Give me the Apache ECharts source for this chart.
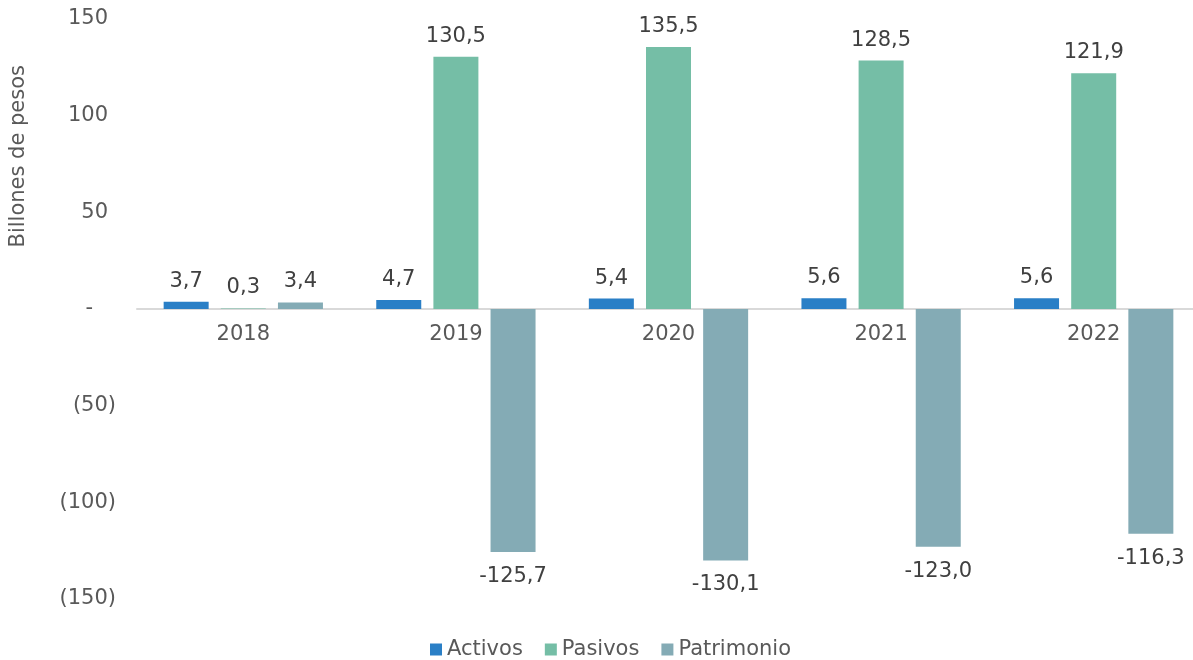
<!DOCTYPE html>
<html>
<head>
<meta charset="utf-8">
<script src="https://cdn.jsdelivr.net/npm/echarts@6/dist/echarts.min.js"></script>
<style>html,body{margin:0;padding:0;background:#fff}#c{width:1193px;height:660px}</style>
</head>
<body>
<div id="c"></div>
<script>
var categories = ['2018', '2019', '2020', '2021', '2022'];
var activos = [3.7, 4.7, 5.4, 5.6, 5.6];
var pasivos = [0.3, 130.5, 135.5, 128.5, 121.9];
var patrimonio = [3.4, -125.7, -130.1, -123.0, -116.3];
var seriesNames = ['Activos', 'Pasivos', 'Patrimonio'];
var colors = ['#2a7fc6', '#75bea6', '#84abb5'];
var FONT = 'DejaVu Sans';
var FS = 21;

function fmt(v) { return v.toFixed(1).replace('.', ','); }
function items(arr) {
  return arr.map(function (v) {
    return { value: v, label: { position: v < 0 ? 'bottom' : 'top', distance: v < 0 ? 14 : 10 } };
  });
}
function mk(name, arr, color) {
  return {
    name: name, type: 'bar', data: items(arr), barWidth: 45, barGap: '27%',
    itemStyle: { color: color },
    label: { show: true, color: '#404040', fontSize: FS, fontFamily: FONT,
      formatter: function (p) { return fmt(p.value); } }
  };
}
var lblBase = { color: '#595959', fontSize: FS, fontFamily: FONT };
var chart = echarts.init(document.getElementById('c'));
chart.setOption({
  animation: false,
  grid: { left: 137, width: 1063, top: 19, height: 580, containLabel: false, outerBoundsMode: 'none' },
  xAxis: {
    type: 'category', data: categories,
    axisLine: { onZero: true, lineStyle: { color: '#d9d9d9', width: 2 } },
    axisTick: { show: false },
    axisLabel: { show: false }
  },
  yAxis: {
    type: 'value', min: -150, max: 150, interval: 50,
    axisLine: { show: false }, axisTick: { show: false }, splitLine: { show: false },
    axisLabel: {
      color: '#595959', fontSize: FS, fontFamily: FONT, margin: 21,
      formatter: function (v) {
        if (v === 0) return '{z|-}';
        if (v < 0) return '{n|(' + (-v) + ')}';
        return '{p|' + v + '}';
      },
      rich: {
        z: Object.assign({ padding: [0, 23, 0, 0] }, lblBase),
        n: Object.assign({}, lblBase),
        p: Object.assign({ padding: [0, 8, 0, 0] }, lblBase)
      }
    }
  },
  legend: {
    data: seriesNames, top: 634, left: 425, icon: 'rect', itemWidth: 12, itemHeight: 12, itemGap: 22,
    textStyle: { color: '#595959', fontSize: FS, fontFamily: FONT }
  },
  graphic: [{
    type: 'text', left: 8, top: 65, rotation: Math.PI / 2,
    style: { text: 'Billones de pesos', fill: '#595959', font: FS + 'px "DejaVu Sans"' }
  }],
  series: [
    mk(seriesNames[0], activos, colors[0]),
    mk(seriesNames[1], pasivos, colors[1]),
    mk(seriesNames[2], patrimonio, colors[2]),
    {
      name: 'categoryLabels', type: 'scatter', silent: true, symbolSize: 0,
      itemStyle: { opacity: 1 },
      data: categories.map(function (c) { return [c, 0]; }),
      label: { show: true, position: 'bottom', distance: 15, color: '#595959', opacity: 1,
        fontSize: FS, fontFamily: FONT,
        formatter: function (p) { return p.value[0]; } },
      z: 10
    }
  ]
});
</script>
</body>
</html>
